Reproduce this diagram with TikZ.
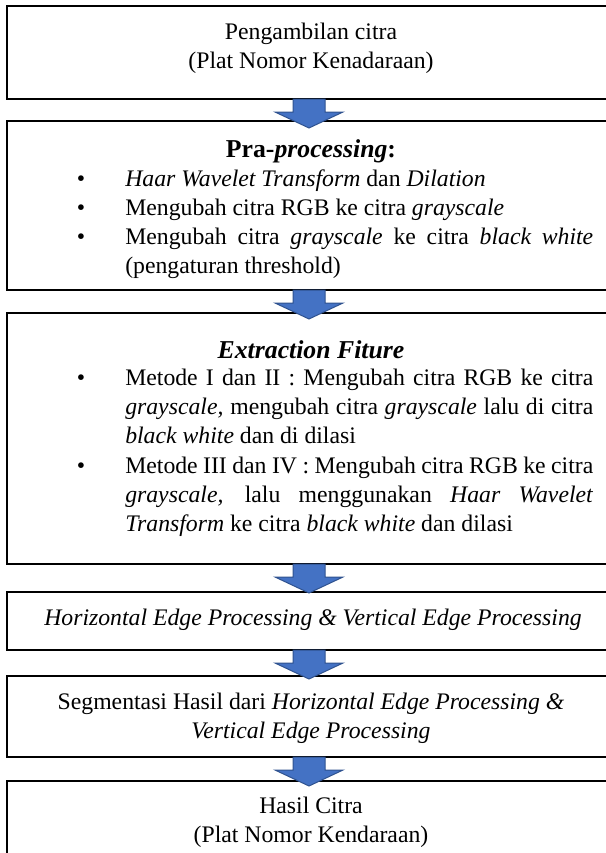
\documentclass[tikz,border=0pt]{standalone}
\usepackage{fontspec}
\setmainfont{Liberation Serif}
\usepackage{tikz}
\definecolor{arrowblue}{HTML}{4472C4}
\definecolor{arrowedge}{HTML}{2F528F}
\hyphenpenalty=10000
\exhyphenpenalty=10000

\begin{document}
\begin{tikzpicture}[x=0.75pt,y=0.75pt,yscale=-1,xscale=1,
    stepbox/.style={draw, line width=1.5pt, inner sep=0pt, outer sep=0pt, minimum width=453pt, anchor=north west},
    bodytext/.style={font=\fontsize{17.8}{21.75}\selectfont, inner sep=0pt},
    headtext/.style={font=\fontsize{19.3}{21.75}\selectfont\bfseries, inner sep=0pt},
    itemtext/.style={bodytext, anchor=base west, text width=351pt, align=justify},
    dot/.style={bodytext, anchor=base},
    arrowblock/.style={fill=arrowblue, draw=arrowedge, line width=0.75pt}]

        \useasboundingbox (0,0) rectangle (606,853);
        \clip (0,0) rectangle (606,853);

        % boxes
        \node[stepbox, minimum height=69.75pt] (b1) at (7,6) {};
        \node[stepbox, minimum height=126.75pt] (b2) at (7,121) {};
        \node[stepbox, minimum height=188.25pt] (b3) at (7,313) {};
        \node[stepbox, minimum height=43.5pt] (b4) at (7,592) {};
        \node[stepbox, minimum height=60.75pt] (b5) at (7,676) {};
        \node[stepbox, minimum height=89.25pt] (b6) at (7,781) {};

        % base of a two-line node is its last line
        \node[bodytext, anchor=base, align=center] (t1) at (311,68) {Pengambilan citra\\(Plat Nomor Kenadaraan)};

        \node[headtext, anchor=base] (t2) at (311,157) {Pra-\textit{processing}:};
        \node[dot] (p1dot) at (81,186) {\textbullet};
        \node[itemtext] (p1) at (125,186) {\textit{Haar Wavelet Transform} dan \textit{Dilation}};
        \node[dot] (p2dot) at (81,215) {\textbullet};
        \node[itemtext] (p2) at (125,215) {Mengubah citra RGB ke citra \textit{grayscale}};
        \node[dot] (p3dot) at (81,244) {\textbullet};
        \node[itemtext] (p3) at (125,244) {Mengubah citra \textit{grayscale} ke citra \textit{black white}\linebreak (pengaturan threshold)};

        \node[headtext, anchor=base] (t3) at (311,358) {\textit{Extraction Fiture}};
        \node[dot] (e1dot) at (81,385) {\textbullet};
        \node[itemtext] (e1) at (125,385) {Metode I dan II : Mengubah citra RGB ke citra\linebreak \textit{grayscale,} mengubah citra \textit{grayscale} lalu di citra\linebreak \textit{black white} dan di dilasi};
        \node[dot] (e2dot) at (81,473) {\textbullet};
        \node[itemtext] (e2) at (125,473) {Metode III dan IV : Mengubah citra RGB ke citra\linebreak \textit{grayscale,} lalu menggunakan \textit{Haar Wavelet}\linebreak \textit{Transform} ke citra \textit{black white} dan dilasi};

        \node[bodytext, anchor=base] (t4) at (313,625) {\textit{Horizontal Edge Processing \& Vertical Edge Processing}};
        \node[bodytext, anchor=base, align=center] (t5) at (311,738) {Segmentasi Hasil dari \textit{Horizontal Edge Processing \&}\\\textit{Vertical Edge Processing}};
        \node[bodytext, anchor=base, align=center] (t6) at (311,842) {Hasil Citra\\(Plat Nomor Kendaraan)};

        % block arrows
        \foreach \src in {b1,b2,b3,b4,b5}
            \draw[arrowblock] (\src.south) ++(-16,0) -- ++(32,0) -- ++(0,13) -- ++(18,0) -- ++(-34,16) -- ++(-34,-16) -- ++(18,0) -- cycle;
\end{tikzpicture}
\end{document}
